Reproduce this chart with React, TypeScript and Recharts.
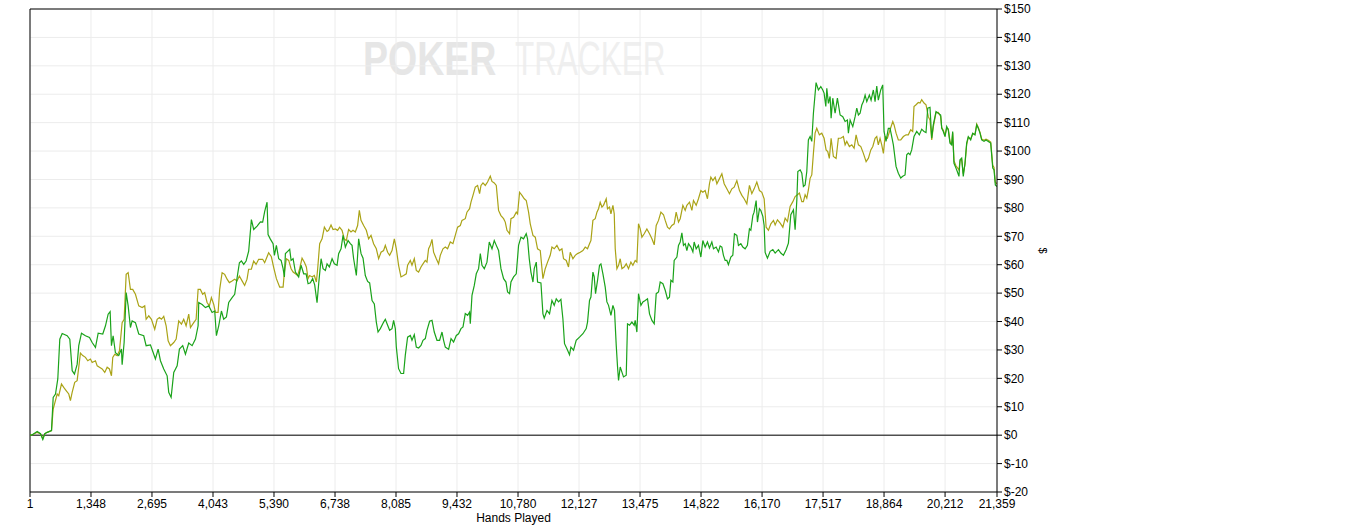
import React from "react";
import {
  LineChart,
  Line,
  XAxis,
  YAxis,
  CartesianGrid,
  ReferenceLine,
} from "recharts";

// [hands played, $ won]
const greenLine: [number, number][] = [
  [1, 0], [34, 0], [160, 1.3], [233, 0.5], [284, -1.5], [328, 0.5], [381, 1], [476, 1.6],
  [513, 13.3], [564, 14.5], [615, 19.8], [659, 33.8], [712, 35.8], [822, 35], [880, 33.8],
  [933, 22.7], [983, 21.5], [1043, 25], [1078, 31.5], [1138, 35.9], [1226, 35], [1315, 34.4],
  [1374, 32.6], [1447, 30.9], [1507, 35.9], [1608, 35.6], [1668, 38.5], [1727, 42.6], [1771, 43.5],
  [1800, 31.5], [1837, 35], [1888, 29], [1961, 28], [2021, 30.3], [2036, 24.8], [2080, 32.6],
  [2125, 50.2], [2169, 45.5], [2219, 37.9], [2257, 40.2], [2330, 39.6], [2403, 35.6], [2513, 35],
  [2566, 31.5], [2661, 31.8], [2721, 29.1], [2771, 26.8], [2831, 30.3], [2882, 26.2], [2955, 23.3],
  [3030, 20.9], [3065, 15.1], [3118, 13.3], [3176, 22.1], [3251, 24.4], [3301, 30.3], [3374, 31.5],
  [3434, 28.5], [3507, 32.4], [3582, 31.5], [3655, 33.8], [3714, 38.5], [3728, 46.7], [3803, 46],
  [3876, 44.9], [3949, 45.5], [4023, 43.2], [4081, 43.7], [4118, 35], [4169, 38.5], [4229, 43.7],
  [4279, 40.8], [4339, 41.6], [4390, 46.7], [4465, 48.4], [4522, 49.6], [4575, 55.4], [4626, 60.7],
  [4670, 61.3], [4721, 60.1], [4774, 61.3], [4831, 64.8], [4891, 75.9], [4942, 72.4], [5017, 73.6],
  [5090, 75.1], [5140, 75], [5185, 78.8], [5237, 82], [5259, 70.6], [5310, 69], [5370, 67.4],
  [5399, 63.3], [5443, 66.8], [5494, 62.1], [5547, 61.5], [5591, 58.6], [5620, 55.7], [5642, 63.9],
  [5693, 64.7], [5737, 65.4], [5768, 61.5], [5812, 62.1], [5863, 57.4], [5935, 55.7], [5988, 59.8],
  [6046, 56.8], [6099, 56.8], [6143, 53.3], [6194, 53.6], [6244, 55.1], [6289, 52.9], [6341, 46.6],
  [6377, 53.3], [6430, 62.1], [6474, 58.6], [6525, 58], [6562, 60.3], [6613, 59.2], [6673, 62.1],
  [6723, 60.3], [6783, 59.8], [6818, 63.9], [6871, 65.6], [6915, 70.3], [6966, 66.2], [7026, 68.5],
  [7076, 67.4], [7114, 66.8], [7149, 62.1], [7209, 56.2], [7260, 69.1], [7313, 63.9], [7357, 62.3],
  [7407, 56.2], [7458, 54.1], [7503, 53.6], [7556, 47.4], [7606, 46.2], [7650, 39.8], [7688, 36.3],
  [7739, 37.5], [7812, 39.8], [7849, 40.8], [7900, 38.7], [7944, 36.9], [7997, 37.5], [8032, 40.4],
  [8070, 37.5], [8092, 31], [8142, 23.4], [8195, 21.7], [8253, 21.7], [8290, 28.1], [8341, 34.5],
  [8401, 35.1], [8438, 33.4], [8489, 35.4], [8533, 31], [8584, 30.7], [8637, 31.6], [8681, 33.4],
  [8732, 34], [8769, 36.9], [8827, 40.1], [8880, 40.4], [8930, 36.3], [8990, 33.4], [9048, 33.4],
  [9101, 36.3], [9136, 33.4], [9174, 31], [9247, 30.2], [9300, 34], [9357, 32.8], [9417, 35.1],
  [9467, 35.7], [9520, 37.5], [9565, 38.1], [9615, 42.8], [9666, 42.2], [9710, 43.3], [9726, 39.2],
  [9763, 49.2], [9814, 52.7], [9858, 56.8], [9909, 58.6], [9947, 63.9], [9984, 59.8], [10035, 58.6],
  [10094, 60.9], [10145, 68], [10205, 65.6], [10255, 68.5], [10300, 66.8], [10350, 65], [10403, 58.6],
  [10461, 55.1], [10514, 53.9], [10549, 50.4], [10593, 49.8], [10624, 53.9], [10682, 55.7], [10741, 56.8],
  [10792, 66.8], [10845, 69.7], [10902, 69.1], [10961, 70.9], [10990, 69.1], [11028, 62.1], [11065, 57.4],
  [11110, 53.9], [11138, 58.6], [11183, 60.9], [11211, 53.9], [11286, 53.6], [11330, 42.7], [11359, 41.2],
  [11419, 43.9], [11476, 42.7], [11529, 47.4], [11580, 45.7], [11624, 48], [11675, 46.9], [11727, 47.8],
  [11771, 41], [11807, 32.2], [11860, 30.4], [11917, 28.3], [11948, 31], [12006, 29.9], [12065, 33.4],
  [12138, 34.5], [12213, 35.7], [12286, 37.5], [12315, 39.8], [12359, 47.4], [12390, 48.6], [12434, 57.4],
  [12463, 55.7], [12492, 49.8], [12536, 54.5], [12580, 59.8], [12611, 60.3], [12655, 56.8], [12706, 52.1],
  [12743, 46.9], [12779, 45.7], [12832, 42.2], [12876, 45.7], [12911, 43.9], [12949, 31.6], [12978, 24],
  [13000, 19.3], [13037, 24], [13075, 22.2], [13110, 20.5], [13170, 21.1], [13198, 39.2], [13243, 38.7],
  [13295, 39.8], [13346, 38.7], [13368, 40.4], [13405, 36.3], [13441, 49.8], [13494, 45.7], [13538, 46.9],
  [13589, 47.4], [13640, 48], [13684, 42.7], [13737, 40.4], [13788, 39.2], [13832, 49.8], [13883, 50.4],
  [13920, 53.9], [13980, 53.3], [14031, 51], [14081, 48], [14125, 48.6], [14156, 54.5], [14200, 53.9],
  [14229, 61.5], [14289, 62.7], [14324, 66.8], [14362, 68], [14399, 71.2], [14434, 66.8], [14472, 67.4],
  [14509, 65], [14545, 67.4], [14598, 66.2], [14642, 64.5], [14670, 68], [14715, 65.6], [14765, 66.8],
  [14818, 62.7], [14862, 68.5], [14913, 66.2], [14964, 68], [15008, 65.9], [15061, 68], [15097, 65.6],
  [15156, 66.2], [15207, 64.5], [15244, 66.6], [15282, 66.2], [15317, 63.3], [15355, 61.5], [15392, 61.5],
  [15427, 60], [15480, 62.7], [15524, 63.3], [15560, 70.9], [15613, 70.3], [15648, 66.8], [15701, 67.4],
  [15745, 66.2], [15796, 65.6], [15846, 66.8], [15891, 72.6], [15922, 72.1], [15966, 77.3], [15994, 78.5],
  [16039, 82.6], [16068, 75], [16112, 79.7], [16143, 79.1], [16187, 77], [16216, 73.8], [16238, 64.3],
  [16289, 62.3], [16349, 64.7], [16408, 65.3], [16459, 64.1], [16532, 65.3], [16584, 64.1], [16642, 63.3],
  [16701, 65.3], [16752, 67.6], [16805, 77.6], [16863, 79.3], [16900, 72.3], [16938, 82.8], [16960, 92.8],
  [17011, 93.4], [17048, 92.2], [17083, 87.5], [17121, 88.1], [17158, 92.8], [17193, 103.9], [17231, 105.1],
  [17268, 103.4], [17304, 113.3], [17363, 124.1], [17414, 121.5], [17467, 122.7], [17511, 121.5], [17540, 120.4],
  [17578, 115.7], [17600, 122.1], [17635, 116.8], [17673, 119.2], [17695, 111.6], [17732, 118.6], [17783, 113.3],
  [17834, 118.6], [17894, 112.7], [17953, 112.1], [18004, 110.4], [18055, 110.9], [18077, 106.3], [18115, 110.9],
  [18174, 108.6], [18225, 112.1], [18262, 115.1], [18298, 112.7], [18335, 113.3], [18373, 116.2], [18408, 117.4],
  [18446, 119.7], [18483, 117.4], [18540, 119.7], [18578, 117.9], [18628, 121.5], [18666, 117.4], [18703, 122.9],
  [18738, 117.9], [18791, 121.5], [18835, 123.3], [18864, 106.9], [18908, 103.4], [18959, 108], [18997, 108],
  [19034, 105.1], [19070, 102.2], [19129, 94.6], [19180, 92.2], [19233, 90.5], [19277, 91.1], [19328, 91.6],
  [19365, 98.7], [19400, 99.3], [19438, 98.7], [19475, 100.4], [19526, 105.1], [19586, 106.9], [19643, 105.7],
  [19696, 107.7], [19747, 106.9], [19791, 106.5], [19829, 115.1], [19879, 115.4], [19917, 104.5], [19952, 109.2],
  [20012, 113.9], [20062, 113.3], [20115, 112.7], [20138, 108], [20173, 106.9], [20211, 105.1], [20248, 108.6],
  [20283, 107.4], [20321, 102.8], [20358, 102.2], [20380, 106.9], [20409, 95.7], [20453, 94], [20482, 92.8],
  [20519, 91.1], [20542, 96.9], [20579, 97.5], [20614, 91.1], [20652, 95.7], [20689, 102.8], [20725, 105.1],
  [20778, 103.9], [20822, 106.3], [20873, 105.7], [20911, 109.2], [20946, 108], [20984, 106.3], [21021, 103.9],
  [21072, 103.4], [21116, 103.9], [21167, 103.4], [21220, 102.8], [21265, 94], [21293, 93.4], [21322, 88.1],
  [21359, 87.5],
];

const oliveLine: [number, number][] = [
  [1, 0], [34, 0], [160, 1], [233, 0.5], [284, -1.2], [328, 0.5], [381, 1], [476, 1.6],
  [513, 9.2], [601, 14.5], [636, 13.9], [696, 18], [746, 16.8], [799, 15.7], [857, 14.5], [894, 12.2],
  [932, 15.1], [989, 18.6], [1042, 19.2], [1064, 22.1], [1115, 28.9], [1166, 28], [1226, 27.4], [1277, 26.2],
  [1336, 26.8], [1374, 25.6], [1447, 26.2], [1485, 24.4], [1535, 23.9], [1595, 23.3], [1652, 22.1], [1705, 23.9],
  [1755, 23.3], [1800, 20.9], [1829, 27.4], [1873, 28.5], [1926, 28], [1977, 29.7], [2036, 39.6], [2080, 40.8],
  [2125, 56.6], [2169, 57.2], [2219, 51.3], [2270, 51.3], [2330, 49.6], [2403, 45.5], [2478, 44.9], [2535, 45.5],
  [2566, 40.8], [2624, 42], [2683, 40.8], [2756, 37.3], [2809, 40.8], [2860, 41.4], [2904, 40.8], [2955, 41.8],
  [3008, 38.5], [3052, 33.2], [3103, 31.5], [3176, 32.6], [3229, 33.8], [3286, 40.2], [3346, 39.1], [3396, 40.8],
  [3449, 38.5], [3507, 42.6], [3545, 37.9], [3617, 39.6], [3670, 40.8], [3714, 51.3], [3764, 51.3], [3815, 49.6],
  [3859, 50.2], [3912, 46.7], [3963, 45.5], [4007, 48.4], [4058, 46.1], [4096, 43.2], [4155, 43.2], [4191, 51.3],
  [4244, 57.2], [4301, 56.6], [4354, 54.9], [4404, 53.7], [4464, 54.3], [4521, 54.9], [4574, 54.3], [4625, 56],
  [4685, 54.3], [4742, 52.7], [4795, 54.9], [4830, 58.4], [4890, 58.4], [4941, 61.3], [4994, 60.1], [5051, 61.9],
  [5140, 61.9], [5184, 60.7], [5237, 62.8], [5272, 64.2], [5332, 62.8], [5384, 59], [5443, 55.1], [5516, 52.1],
  [5591, 52.1], [5620, 57.4], [5664, 62.1], [5715, 61.5], [5768, 58.6], [5812, 57.4], [5863, 56.8], [5913, 56.2],
  [5957, 58.6], [6010, 62.3], [6061, 60.9], [6105, 59.2], [6143, 55.1], [6177, 56.2], [6230, 55.7], [6281, 56.2],
  [6326, 53.9], [6355, 58.6], [6399, 67.4], [6452, 69.1], [6503, 73.2], [6562, 71.7], [6597, 72.1], [6650, 74],
  [6694, 72.4], [6745, 72.6], [6795, 72.1], [6839, 73.2], [6893, 72.1], [6943, 69.1], [6987, 68.5], [7038, 72.4],
  [7091, 71.5], [7135, 72.1], [7186, 71.5], [7237, 73.8], [7275, 79.1], [7312, 75.6], [7370, 73.8], [7429, 72.1],
  [7480, 69.1], [7533, 70.3], [7590, 67.4], [7650, 65.6], [7701, 62.1], [7754, 64.4], [7811, 65], [7849, 66.8],
  [7900, 64.4], [7944, 63.3], [7997, 65], [8048, 69.1], [8092, 65.6], [8142, 59.8], [8195, 55.7], [8253, 56.2],
  [8312, 56.8], [8341, 59.8], [8401, 61.5], [8438, 59.8], [8489, 62.1], [8533, 58], [8584, 57.4], [8637, 59.2],
  [8681, 60.3], [8732, 61.5], [8769, 60.9], [8805, 65.6], [8842, 66.8], [8880, 68.9], [8915, 64.4], [8975, 62.1],
  [9025, 60.3], [9063, 63.3], [9122, 65.6], [9174, 66.2], [9224, 65.6], [9284, 68], [9343, 67.4], [9394, 70.3],
  [9445, 73.2], [9505, 73.8], [9542, 75.6], [9615, 76.2], [9652, 78.5], [9710, 79.7], [9741, 82], [9785, 84.4],
  [9836, 87.3], [9887, 87.9], [9931, 85], [9962, 87.9], [10006, 88.8], [10057, 87.9], [10107, 89.1], [10167, 91.2],
  [10204, 89.3], [10255, 88.8], [10300, 87.9], [10350, 79.1], [10403, 77.3], [10461, 76.2], [10498, 75], [10536, 72.1],
  [10593, 70.9], [10624, 76.2], [10682, 76.7], [10741, 78.5], [10770, 77.9], [10814, 85.5], [10867, 84.4], [10918, 83.2],
  [10962, 82.6], [11013, 78.5], [11050, 74.4], [11110, 70.3], [11161, 69.7], [11211, 65.6], [11271, 65], [11330, 55.1],
  [11381, 58.6], [11432, 60.9], [11491, 63.3], [11529, 66.2], [11580, 65.6], [11639, 66.8], [11697, 65], [11750, 65.6],
  [11785, 62.1], [11845, 61.5], [11895, 59.2], [11933, 64.4], [11992, 62.1], [12043, 63.3], [12094, 63.9], [12154, 64.4],
  [12213, 65], [12264, 66.2], [12315, 65.6], [12359, 67.4], [12390, 68.5], [12434, 75.6], [12485, 76.2], [12523, 78.5],
  [12558, 79.7], [12595, 82], [12633, 80.3], [12668, 80.9], [12728, 83.2], [12756, 79.7], [12801, 80.3], [12832, 77.9],
  [12876, 80.9], [12905, 77.9], [12927, 65.6], [12964, 58.6], [13000, 59.8], [13037, 62.1], [13075, 58.6], [13125, 59.2],
  [13170, 60.3], [13220, 58.6], [13273, 60.9], [13317, 59.8], [13368, 61.5], [13405, 60.9], [13441, 74.4], [13479, 72.6],
  [13516, 69.7], [13567, 70.9], [13626, 72.6], [13684, 70.9], [13737, 69.1], [13788, 67], [13832, 73.8], [13883, 75.6],
  [13936, 78.5], [13993, 77.6], [14031, 75.6], [14081, 73.2], [14125, 72.6], [14178, 73.8], [14229, 74.4], [14273, 78.5],
  [14324, 75], [14362, 76.2], [14421, 80.9], [14472, 79.1], [14509, 80.9], [14567, 82], [14620, 79.1], [14655, 82.6],
  [14715, 80.9], [14765, 83.2], [14818, 86.1], [14862, 85.5], [14913, 86.1], [14964, 83.2], [15008, 88.5], [15039, 90.8],
  [15083, 89.6], [15134, 90.8], [15172, 88.5], [15229, 90.3], [15282, 92], [15333, 88.5], [15392, 86.7], [15450, 85],
  [15503, 86.7], [15554, 87.3], [15613, 89.6], [15671, 86.1], [15724, 84.4], [15774, 83.2], [15834, 81.4], [15891, 87.9],
  [15944, 85], [15995, 86.7], [16054, 89.1], [16112, 86.1], [16165, 85.5], [16216, 83.2], [16260, 73.2], [16311, 72.1],
  [16364, 74.4], [16422, 75.6], [16459, 74], [16510, 75.8], [16570, 74.6], [16629, 73.2], [16680, 76.4], [16731, 75.2],
  [16790, 80.5], [16850, 82.2], [16900, 84], [16951, 84.6], [16995, 85.2], [17048, 82.2], [17083, 82.2], [17121, 84.6],
  [17158, 83.4], [17193, 86.3], [17231, 90.4], [17268, 91.6], [17304, 99.2], [17341, 106.3], [17378, 108], [17436, 105.7],
  [17489, 106.3], [17540, 104.5], [17584, 100.4], [17621, 99.8], [17656, 97.4], [17695, 104.5], [17745, 98.1], [17805, 97.4],
  [17855, 104.5], [17908, 104.5], [17966, 105.1], [18004, 102.2], [18041, 103.4], [18099, 101.6], [18152, 102.2], [18203, 101],
  [18247, 105.7], [18298, 102.2], [18351, 101.6], [18408, 99.2], [18468, 96.3], [18519, 97.5], [18572, 100.4], [18616, 101.6],
  [18666, 104.5], [18703, 105.1], [18738, 102.2], [18776, 104.5], [18813, 102.2], [18850, 99.2], [18887, 105.1], [18938, 104.5],
  [18997, 107.5], [19057, 110.4], [19086, 109.2], [19130, 106.3], [19180, 103.9], [19233, 103.9], [19291, 105.1], [19351, 105.7],
  [19400, 105.7], [19453, 107.5], [19497, 106.9], [19526, 115.7], [19571, 116.3], [19621, 117.1], [19659, 116.9], [19696, 118.1],
  [19747, 116.9], [19791, 116.3], [19842, 112.1], [19879, 110.9], [19917, 103.9], [19952, 108.5], [20012, 113.5], [20062, 113.6],
  [20115, 112.2], [20138, 108.3], [20173, 107.3], [20211, 105.6], [20248, 108.1], [20283, 107.8], [20321, 103.3], [20358, 102.5],
  [20380, 106.4], [20409, 96.5], [20453, 94.8], [20482, 94.2], [20519, 93.3], [20542, 96.5], [20579, 97], [20614, 92],
  [20652, 95.3], [20689, 102.3], [20725, 104.8], [20778, 104.3], [20822, 106], [20873, 106], [20911, 109.5], [20946, 108.3],
  [20984, 106.6], [21021, 104.2], [21072, 103.8], [21116, 104.2], [21167, 103.8], [21220, 103.2], [21265, 95], [21293, 94.2],
  [21322, 89], [21359, 88.5],
];

const handTicks = [
  1, 1348, 2695, 4043, 5390, 6738, 8085, 9432, 10780, 12127, 13475, 14822, 16170, 17517, 18864,
  20212, 21359,
];
const dollarTicks = [-20, -10, 0, 10, 20, 30, 40, 50, 60, 70, 80, 90, 100, 110, 120, 130, 140, 150];

const toPoints = (rows: [number, number][]) => rows.map(([h, v]) => ({ h, v }));

const FONT = "'Liberation Sans', Arial, sans-serif";

// pale logo text behind the plot; tall, narrow letters
function Watermark() {
  return (
    <svg
      width={1360}
      height={525}
      style={{ position: "absolute", left: 0, top: 0 }}
    >
      <g transform="translate(363 75) scale(1 1.3)">
        <text x={0} y={0} fontFamily={FONT} fontWeight="bold" fontSize={37.5} fill="#e6e6e6">
          POKER
        </text>
      </g>
      <g transform="translate(515 75) scale(1 1.55)">
        <text x={0} y={0} fontFamily={FONT} fontSize={31.5} fill="#efefef">
          TRACKER
        </text>
      </g>
    </svg>
  );
}

export default function App() {
  const tickStyle = { fill: "#000", fontSize: 12, fontFamily: FONT };

  return (
    <div
      style={{
        position: "absolute",
        left: 0,
        top: 0,
        width: 1360,
        height: 525,
        background: "#fff",
        fontFamily: FONT,
      }}
    >
      <Watermark />
      <div style={{ position: "absolute", left: 0, top: 0 }}>
        <LineChart
          width={1360}
          height={525}
          margin={{ top: 9, right: 271, left: 30, bottom: 0 }}
        >
          <CartesianGrid stroke="#ececec" strokeWidth={1} />
          <XAxis
            type="number"
            dataKey="h"
            domain={[1, 21359]}
            ticks={handTicks}
            interval={0}
            allowDataOverflow
            height={33}
            tickSize={5}
            tick={tickStyle}
            axisLine={{ stroke: "#000" }}
            tickLine={{ stroke: "#000" }}
            tickFormatter={(v: number) => v.toLocaleString("en-US")}
            label={{
              value: "Hands Played",
              position: "insideBottom",
              offset: 3,
              fill: "#000",
              fontSize: 12,
            }}
          />
          <YAxis
            orientation="right"
            type="number"
            domain={[-20, 150]}
            ticks={dollarTicks}
            interval={0}
            allowDataOverflow
            width={92}
            tickSize={5}
            tick={tickStyle}
            axisLine={{ stroke: "#000" }}
            tickLine={{ stroke: "#000" }}
            tickFormatter={(v: number) => `$${v}`}
            label={{
              value: "$",
              angle: 90,
              position: "center",
              fill: "#000",
              fontSize: 11,
            }}
          />
          <ReferenceLine y={150} stroke="#000" />
          <ReferenceLine x={1} stroke="#000" />
          <ReferenceLine y={0} stroke="#000" />
          <Line
            data={toPoints(oliveLine)}
            dataKey="v"
            type="linear"
            stroke="#aaa316"
            strokeWidth={1.2}
            dot={false}
            isAnimationActive={false}
          />
          <Line
            data={toPoints(greenLine)}
            dataKey="v"
            type="linear"
            stroke="#1aa31a"
            strokeWidth={1.2}
            dot={false}
            isAnimationActive={false}
          />
        </LineChart>
      </div>
    </div>
  );
}
